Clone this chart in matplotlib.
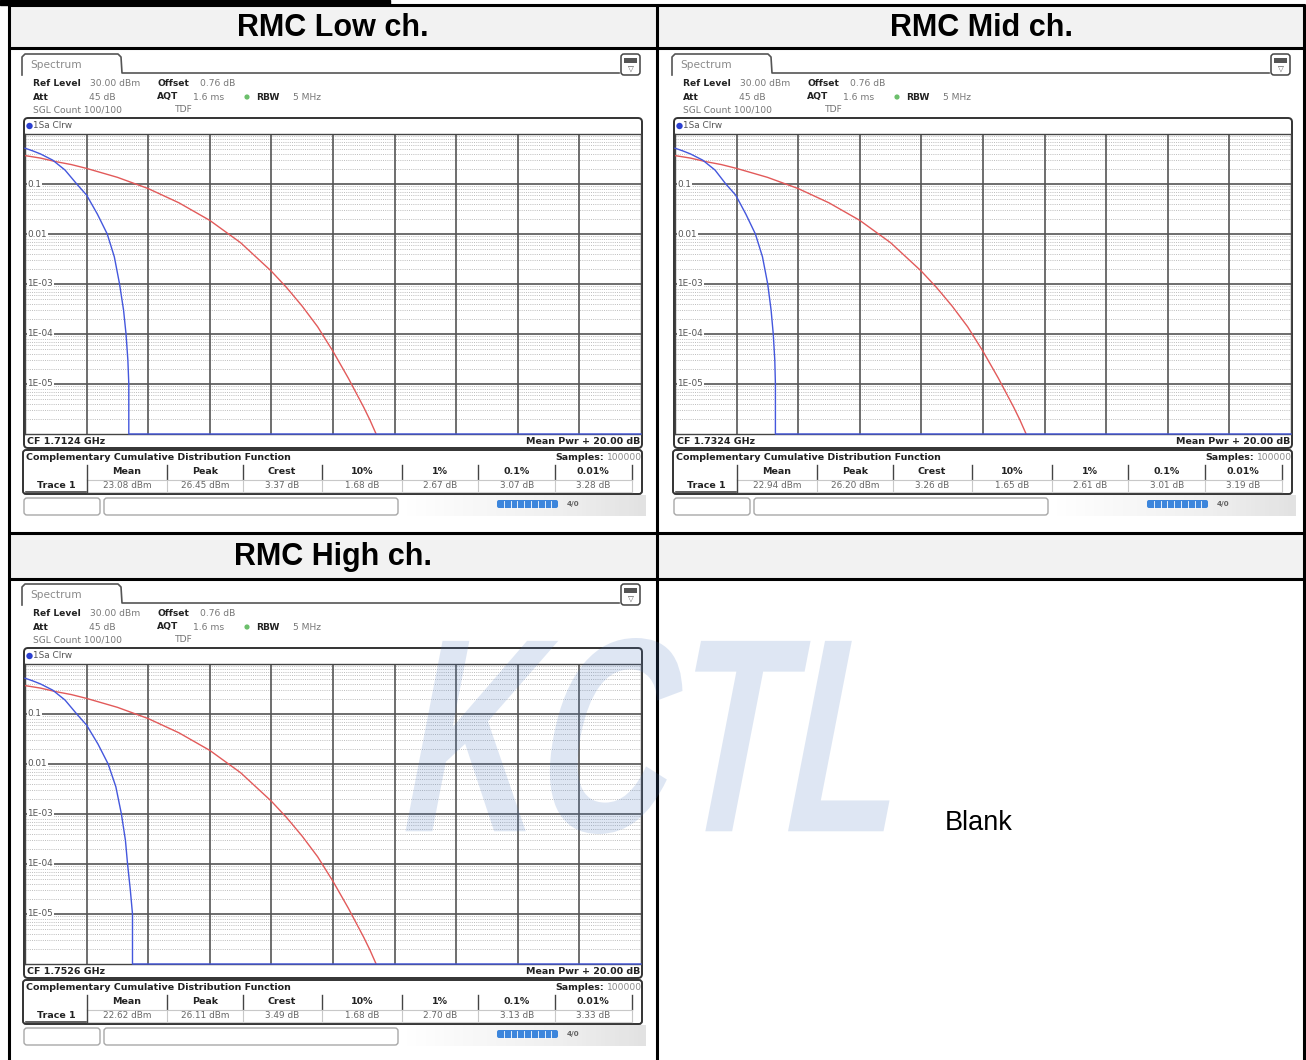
import numpy as np
import matplotlib
matplotlib.use("Agg")
import matplotlib.pyplot as plt
from matplotlib.patches import Rectangle, FancyBboxPatch, Circle, PathPatch
from matplotlib.textpath import TextPath
from matplotlib.font_manager import FontProperties
import matplotlib.transforms as mtransforms

# ---------------- data ----------------
titles = ["RMC Low ch.", "RMC Mid ch.", "RMC High ch."]
center_freqs = ["CF 1.7124 GHz", "CF 1.7324 GHz", "CF 1.7526 GHz"]
stat_names = ["Mean", "Peak", "Crest", "10%", "1%", "0.1%", "0.01%"]
stats_low = ["23.08 dBm", "26.45 dBm", "3.37 dB", "1.68 dB", "2.67 dB", "3.07 dB", "3.28 dB"]
stats_mid = ["22.94 dBm", "26.20 dBm", "3.26 dB", "1.65 dB", "2.61 dB", "3.01 dB", "3.19 dB"]
stats_high = ["22.62 dBm", "26.11 dBm", "3.49 dB", "1.68 dB", "2.70 dB", "3.13 dB", "3.33 dB"]

# measured trace (blue): level above mean power [dB] vs probability
trace_prob = [0.52, 0.46, 0.40, 0.30, 0.19, 0.1, 0.06, 0.025, 0.01, 0.0035, 1e-3, 3e-4, 1e-4, 3e-5, 1e-5, 1e-6, 1e-6]
trace_db_low = [0, 0.25, 0.5, 0.9, 1.3, 1.68, 2.0, 2.35, 2.67, 2.9, 3.07, 3.2, 3.28, 3.34, 3.37, 3.37, 20]
trace_db_mid = [0, 0.25, 0.5, 0.9, 1.3, 1.65, 1.97, 2.3, 2.61, 2.84, 3.01, 3.12, 3.19, 3.24, 3.26, 3.26, 20]
trace_db_high = [0, 0.25, 0.5, 0.9, 1.3, 1.68, 2.0, 2.37, 2.70, 2.95, 3.13, 3.26, 3.33, 3.42, 3.49, 3.49, 20]

# Gaussian reference (red)
gauss_db = [0, 0.5, 1, 1.5, 2, 3, 4, 5, 6, 7, 8, 8.5, 9, 9.5, 10, 10.5, 11, 11.2, 11.4]
gauss_prob = [0.37, 0.33, 0.28, 0.245, 0.205, 0.136, 0.081, 0.042, 0.0187, 0.0067, 0.0018,
              8.4e-4, 3.6e-4, 1.4e-4, 4.5e-5, 1.3e-5, 3.4e-6, 1.9e-6, 1.0e-6]

x_ticks_db = [2, 4, 6, 8, 10, 12, 14, 16, 18]
y_decades = [1e-1, 1e-2, 1e-3, 1e-4, 1e-5]
y_labels = ["0.1", "0.01", "1E-03", "1E-04", "1E-05"]

W, H = 1306, 1060
fig = plt.figure(figsize=(W / 100, H / 100), dpi=100)
bg = fig.add_axes([0, 0, 1, 1], zorder=0)
bg.set_xlim(0, W)
bg.set_ylim(H, 0)
bg.axis("off")

# ---------------- outer table ----------------
bg.add_patch(Rectangle((0, 0), 390, 5, color="black", zorder=3))
for (x0, y0, w, h) in [(9, 5, 648, 43), (657, 5, 647, 43), (9, 533, 1295, 46)]:
    bg.add_patch(Rectangle((x0, y0), w, h, fc="#f2f2f2", ec="none", zorder=1))
for y in [5, 48, 533, 579]:
    bg.plot([8, 1305], [y, y], color="black", lw=2.2, zorder=4, solid_capstyle="butt")
for x in [9, 657, 1304]:
    bg.plot([x, x], [4, H], color="black", lw=2.2, zorder=4, solid_capstyle="butt")

hdr_font = dict(family="Liberation Sans", weight="bold", fontsize=22, color="black",
                ha="center", va="center")
bg.text(333, 28, titles[0], **hdr_font)
bg.text(981, 28, titles[1], **hdr_font)
bg.text(333, 557, titles[2], **hdr_font)
bg.text(945, 823, "Blank", family="Liberation Sans", fontsize=19.5, color="black",
        ha="left", va="center")

BLUE = "#4457dd"
RED = "#e25a5a"

def panel(ox, oy, cf, stats, tdb):
    def T(x, y, s, **kw):
        d = dict(fontsize=6.6, va="center", ha="left", color="#777777", family="DejaVu Sans")
        d.update(kw)
        bg.text(ox + x, oy + y, s, zorder=5, **d)
    def L(xs, ys, **kw):
        d = dict(color="#333333", lw=1.1, zorder=5)
        d.update(kw)
        bg.plot([ox + v for v in xs], [oy + v for v in ys], **d)

    # tab
    L([22, 22, 25, 118, 121, 122, 619], [75, 57, 54, 54, 57, 73, 73], color="#555555", lw=1.2)
    T(30, 65, "Spectrum", fontsize=7.6, color="#8a8a8a")
    # icon
    bg.add_patch(FancyBboxPatch((ox + 621, oy + 54), 19, 21,
                                boxstyle="round,pad=0,rounding_size=3",
                                fc="white", ec="#444444", lw=1.1, zorder=5))
    bg.add_patch(Rectangle((ox + 624, oy + 58), 13, 5, fc="#555555", ec="none", zorder=6))
    T(630.5, 68.5, "\u25BD", fontsize=5.5, color="#555555", ha="center")

    B = dict(weight="bold", color="#222222")
    T(33, 84, "Ref Level", **B)
    T(90, 84, "30.00 dBm")
    T(157, 84, "Offset", **B)
    T(200, 84, "0.76 dB")
    T(33, 97, "Att", **B)
    T(116, 97, "45 dB", ha="right")
    T(157, 97, "AQT", **B)
    T(193, 97, "1.6 ms")
    bg.add_patch(Circle((ox + 247, oy + 97), 2.6, fc="#6cbf6c", ec="none", zorder=6))
    T(256, 97, "RBW", **B)
    T(293, 97, "5 MHz")
    T(33, 110, "SGL Count 100/100")
    T(175, 110, "TDF")

    # trace box
    bg.add_patch(FancyBboxPatch((ox + 24, oy + 118), 618, 330,
                                boxstyle="round,pad=0,rounding_size=4",
                                fc="white", ec="#333333", lw=1.4, zorder=2))
    bg.add_patch(Circle((ox + 29.5, oy + 126), 3.2, fc="#2b3fd0", ec="none", zorder=6))
    T(33, 126, "1Sa Clrw", fontsize=6.4, color="#555555")
    T(27, 441, cf, fontsize=6.8, **B)
    T(640, 441, "Mean Pwr + 20.00 dB", fontsize=6.8, ha="right", **B)

    # CCDF table box
    bg.add_patch(FancyBboxPatch((ox + 23, oy + 450), 619, 44,
                                boxstyle="round,pad=0,rounding_size=3",
                                fc="white", ec="#333333", lw=1.4, zorder=2))
    T(26, 457, "Complementary Cumulative Distribution Function", fontsize=6.8, **B)
    T(604, 457, "Samples:", fontsize=6.8, ha="right", **B)
    T(642, 457, "100000", fontsize=6.6, ha="right", color="#8a8a8a")
    centers = [127, 205, 282, 362, 440, 517, 593]
    seps = [87, 167, 243, 322, 402, 478, 555, 632]
    for c, n, v in zip(centers, stat_names, stats):
        T(c, 472, n, fontsize=6.8, ha="center", **B)
        T(c, 486, v, fontsize=6.4, ha="center", color="#666666")
    for s in seps:
        L([s, s], [465, 479], color="#444444", lw=1.0)
        L([s, s], [480, 492], color="#c8c8c8", lw=0.8)
    L([88, 632], [479.5, 479.5], color="#c8c8c8", lw=0.8)
    L([88, 632], [492, 492], color="#d0d0d0", lw=0.8)
    T(56, 486, "Trace 1", fontsize=6.8, ha="center", **B)
    L([26, 86], [492, 492], color="#444444", lw=1.2)
    L([87, 87], [480, 492], color="#444444", lw=1.0)

    # bottom bar with light gradient at right
    grad = np.linspace(0, 1, 64)[None, :]
    bg.imshow(grad, extent=(ox + 400, ox + 646, oy + 516, oy + 495), cmap="Greys",
              vmin=0, vmax=5, aspect="auto", zorder=1, interpolation="bilinear")
    for (x0, w) in [(24, 76), (104, 294)]:
        bg.add_patch(FancyBboxPatch((ox + x0, oy + 498), w, 17,
                                    boxstyle="round,pad=0,rounding_size=3",
                                    fc="white", ec="#a8a8a8", lw=1.0, zorder=3))
    bg.add_patch(FancyBboxPatch((ox + 497, oy + 500), 61, 8,
                                boxstyle="round,pad=0,rounding_size=2",
                                fc="#3d86dc", ec="none", zorder=4))
    for k in range(1, 9):
        L([497 + k * 6.8, 497 + k * 6.8], [500.5, 507.5], color="white", lw=0.6)
    T(573, 504, "4/0", fontsize=5.2, ha="center", color="#666666", weight="bold")

    # CCDF plot axes
    x0, x1, y0, y1 = ox + 25, ox + 641, oy + 134, oy + 434
    ax = fig.add_axes([x0 / W, 1 - y1 / H, (x1 - x0) / W, (y1 - y0) / H], zorder=2)
    ax.set_yscale("log")
    ax.set_xlim(0, 20)
    ax.set_ylim(1e-6, 1)
    ax.set_xticks([])
    ax.set_yticks([])
    ax.minorticks_off()
    for sp in ax.spines.values():
        sp.set_color("#444444")
        sp.set_linewidth(1.0)
    for dec in [1e-6, 1e-5, 1e-4, 1e-3, 1e-2, 1e-1]:
        for m in range(2, 10):
            ax.axhline(dec * m, color="#b4b4b4", lw=0.6, ls=(0, (1.2, 1.4)), zorder=1)
    for xv in x_ticks_db:
        ax.axvline(xv, color="#555555", lw=1.2, zorder=2)
    for yv in y_decades:
        ax.axhline(yv, color="#555555", lw=1.2, zorder=2)
    tr = mtransforms.blended_transform_factory(ax.transAxes, ax.transData)
    for yv, lab in zip(y_decades, y_labels):
        ax.text(0.004, yv, lab, transform=tr, fontsize=6.4, color="#555555",
                va="center", ha="left", zorder=3,
                bbox=dict(fc="white", ec="none", pad=0.6))
    ax.plot(gauss_db, gauss_prob, color=RED, lw=1.0, zorder=4)
    ax.plot(tdb, trace_prob, color=BLUE, lw=1.0, zorder=5, clip_on=False)
    return ax

panel(0, 0, center_freqs[0], stats_low, trace_db_low)
panel(650, 0, center_freqs[1], stats_mid, trace_db_mid)
panel(0, 530, center_freqs[2], stats_high, trace_db_high)

# ---------------- watermark ----------------
ov = fig.add_axes([0, 0, 1, 1], zorder=10)
ov.set_xlim(0, W)
ov.set_ylim(H, 0)
ov.axis("off")
ov.patch.set_alpha(0)
tp = TextPath((0, 0), "KCTL", size=100,
              prop=FontProperties(family="Liberation Sans", weight="bold"))
ext = tp.get_extents()
sy = 196.0 / ext.height
sx = 478.0 / ext.width
trf = (mtransforms.Affine2D().translate(-ext.x0, -ext.y0).scale(sx, sy)
       .skew_deg(11, 0).scale(1, -1).translate(405, 834))
ov.add_patch(PathPatch(tp, transform=trf + ov.transData, fc="#4a78c0", ec="none",
                       alpha=0.18, zorder=10))

fig.savefig("out.png", dpi=100)
